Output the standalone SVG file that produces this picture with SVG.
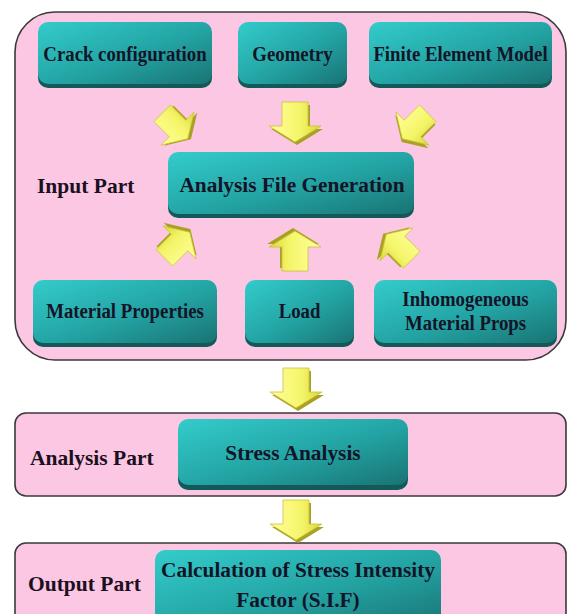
<svg xmlns="http://www.w3.org/2000/svg" width="568" height="614" viewBox="0 0 568 614">
<defs>
<linearGradient id="teal" x1="0" y1="0" x2="1" y2="1">
<stop offset="0" stop-color="#33cccb"/>
<stop offset="0.55" stop-color="#23a3a3"/>
<stop offset="1" stop-color="#1a7373"/>
</linearGradient>
<linearGradient id="yel" x1="0" y1="0" x2="1" y2="0">
<stop offset="0" stop-color="#ffff9c"/>
<stop offset="0.6" stop-color="#f5f56a"/>
<stop offset="1" stop-color="#d8d83a"/>
</linearGradient>
<g id="arrow">
<polygon points="-13,-20 13,-20 13,4 26,4 0,20 -26,4 -13,4" transform="translate(2,3)" fill="#a9a124"/>
<polygon points="-13,-20 13,-20 13,4 26,4 0,20 -26,4 -13,4" fill="url(#yel)" stroke="#c9c23a" stroke-width="0.8"/>
</g>
</defs>
<style>
.panel{fill:#fcc7e3;stroke:#3a3a3a;stroke-width:1.6}
.box{fill:url(#teal)}
.shade{fill:#14595a}
.t{font-family:"Liberation Serif","Times New Roman",serif;font-weight:bold;fill:#141428;text-anchor:middle;font-size:20px}
.big{font-size:22px}
.lbl{font-family:"Liberation Serif","Times New Roman",serif;font-weight:bold;fill:#1a1020;font-size:21.5px}
</style>
<rect width="568" height="614" fill="#ffffff"/>

<g id="input-part">
<rect class="panel" x="15" y="12" width="551" height="348" rx="40" ry="40"/>
<text class="lbl" x="37" y="193">Input Part</text>
</g>
<g id="analysis-part">
<rect class="panel" x="15" y="413" width="551" height="83" rx="11" ry="11"/>
<text class="lbl" x="30" y="465">Analysis  Part</text>
</g>
<g id="output-part">
<rect class="panel" x="15" y="543" width="551" height="90" rx="11" ry="11"/>
<text class="lbl" x="28" y="591">Output Part</text>
</g>

<g id="crack-configuration">
<rect class="shade" x="38" y="27" width="174" height="61" rx="10"/>
<rect class="box" x="38" y="22" width="174" height="62" rx="10"/>
<text class="t" transform="translate(125,61) scale(0.94,1)">Crack configuration</text>
</g>
<g id="geometry">
<rect class="shade" x="238" y="27" width="109" height="61" rx="10"/>
<rect class="box" x="238" y="22" width="109" height="62" rx="10"/>
<text class="t" transform="translate(292.5,61) scale(0.94,1)">Geometry</text>
</g>
<g id="finite-element-model">
<rect class="shade" x="369" y="27" width="183" height="61" rx="10"/>
<rect class="box" x="369" y="22" width="183" height="62" rx="10"/>
<text class="t" transform="translate(460.5,61) scale(0.94,1)">Finite Element Model</text>
</g>
<g id="analysis-file-generation">
<rect class="shade" x="168" y="157" width="246" height="61" rx="10"/>
<rect class="box" x="168" y="152" width="246" height="62" rx="10"/>
<text class="t big" transform="translate(292,192) scale(0.97,1)">Analysis  File Generation</text>
</g>
<g id="material-properties">
<rect class="shade" x="33" y="285" width="184" height="62" rx="10"/>
<rect class="box" x="33" y="280" width="184" height="63" rx="10"/>
<text class="t" transform="translate(125,318) scale(0.94,1)">Material Properties</text>
</g>
<g id="load">
<rect class="shade" x="245" y="285" width="109" height="62" rx="10"/>
<rect class="box" x="245" y="280" width="109" height="63" rx="10"/>
<text class="t" transform="translate(299.5,318) scale(0.94,1)">Load</text>
</g>
<g id="inhomogeneous-material-props">
<rect class="shade" x="374" y="285" width="183" height="62" rx="10"/>
<rect class="box" x="374" y="280" width="183" height="63" rx="10"/>
<text class="t" transform="translate(465.5,306) scale(0.94,1)">Inhomogeneous</text>
<text class="t" transform="translate(465.5,330) scale(0.94,1)">Material Props</text>
</g>
<g id="stress-analysis">
<rect class="shade" x="178" y="425" width="230" height="65" rx="10"/>
<rect class="box" x="178" y="419" width="230" height="66" rx="10"/>
<text class="t big" transform="translate(293,460) scale(0.97,1)">Stress Analysis</text>
</g>
<g id="sif-calculation">
<rect class="box" x="155" y="550" width="286" height="80" rx="10"/>
<text class="t big" transform="translate(298,577) scale(0.97,1)">Calculation of Stress Intensity</text>
<text class="t big" transform="translate(298,607) scale(0.97,1)">Factor (S.I.F)</text>
</g>

<g id="connectors">
<use href="#arrow" transform="translate(175,126) rotate(-45) scale(0.9)"/>
<use href="#arrow" transform="translate(295,122)"/>
<use href="#arrow" transform="translate(415,126) rotate(45) scale(0.9)"/>
<use href="#arrow" transform="translate(177,245) rotate(-135) scale(0.9)"/>
<use href="#arrow" transform="translate(295,251) rotate(180)"/>
<use href="#arrow" transform="translate(399,247) rotate(135) scale(0.9)"/>
<use href="#arrow" transform="translate(296,388)"/>
<use href="#arrow" transform="translate(296,520)"/>
</g>
</svg>
